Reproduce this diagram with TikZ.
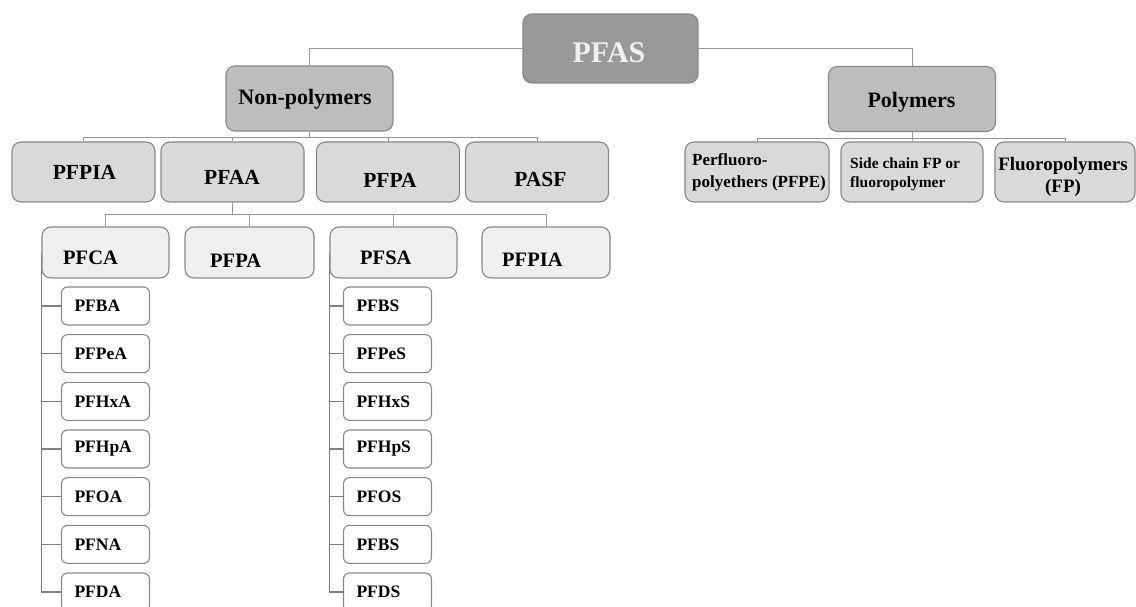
\documentclass[tikz,border=0pt]{standalone}
\usepackage{fontspec}
\setmainfont{Liberation Serif}
\usetikzlibrary{positioning,calc}

\definecolor{topgray}{HTML}{999999}
\definecolor{midgray}{HTML}{BDBDBD}
\definecolor{boxgray}{HTML}{D9D9D9}
\definecolor{subgray}{HTML}{EFEFEF}
\definecolor{edgegray}{HTML}{888888}
\definecolor{linkgray}{HTML}{979797}
\definecolor{spinegray}{HTML}{808080}

\tikzset{
  box/.style={draw=edgegray, line width=1.1pt, rounded corners=9pt, inner sep=0pt},
  toplvl/.style={box, fill=topgray, minimum width=175pt, minimum height=69pt},
  lvlone/.style={box, fill=midgray, minimum width=167pt, minimum height=65pt},
  lvltwo/.style={box, fill=boxgray, minimum width=143pt, minimum height=60pt},
  lvlthree/.style={box, fill=subgray, minimum width=128pt, minimum height=51pt},
  leaf/.style={box, fill=white, rounded corners=6pt, minimum width=88pt,
    minimum height=38pt, text width=62pt, inner xsep=13pt, align=left,
    font=\bfseries\fontsize{17.5}{20}\selectfont},
  link/.style={draw=linkgray, line width=1pt},
  spine/.style={draw=spinegray, line width=1.1pt},
  txt/.style={anchor=base, inner sep=0pt},
}

\begin{document}
\begin{tikzpicture}[x=1pt, y=-1pt]
\useasboundingbox (0,0) rectangle (1136,607);

% top and first level
\node[toplvl] (pfas) at (610.5,48.5) {};
\node[txt, text=white!94!black, font=\bfseries\fontsize{30}{32}\selectfont] (pfas-t) at (609,63) {PFAS};
\node[lvlone] (nonpoly) at (309.5,98.5) {};
\node[txt, font=\bfseries\fontsize{22}{24}\selectfont] (nonpoly-t) at (305,105) {Non-polymers};
\node[lvlone] (poly) at (912,99) {};
\node[txt, font=\bfseries\fontsize{22}{24}\selectfont] (poly-t) at (911.5,108) {Polymers};

% non-polymers
\node[lvltwo] (pfpia1) at (83.5,172) {};
\node[lvltwo] (pfaa) at (232.5,172) {};
\node[lvltwo] (pfpa1) at (388,172) {};
\node[lvltwo] (pasf) at (537,172) {};
\begin{scope}[font=\bfseries\fontsize{21.5}{24}\selectfont]
\node[txt] (pfpia1-t) at (84.5,179) {PFPIA};
\node[txt] (pfaa-t) at (232,185) {PFAA};
\node[txt] (pfpa1-t) at (390,188) {PFPA};
\node[txt] (pasf-t) at (540.5,186) {PASF};
\end{scope}

% polymers
\node[lvltwo, minimum width=144pt] (pfpe) at (757,172) {};
\node[lvltwo, minimum width=142pt] (sidefp) at (912,172) {};
\node[lvltwo, minimum width=140pt] (fp) at (1065,172) {};
\node[txt, anchor=west, align=left, font=\bfseries\fontsize{17}{22}\selectfont] (pfpe-t) at (692,172.5) {Perfluoro-\\polyethers (PFPE)};
\node[txt, anchor=west, align=left, font=\bfseries\fontsize{15.5}{19}\selectfont] (sidefp-t) at (850,174) {Side chain FP or\\fluoropolymer};
\node[txt, anchor=center, align=center, font=\bfseries\fontsize{19}{22}\selectfont] (fp-t) at (1063,176.5) {Fluoropolymers\\(FP)};

% PFAA classes
\node[lvlthree, minimum width=127pt] (pfca) at (105.5,252.5) {};
\node[lvlthree, minimum width=129pt] (pfpa2) at (249.5,252.5) {};
\node[lvlthree, minimum width=127pt] (pfsa) at (393.5,252.5) {};
\node[lvlthree] (pfpia2) at (546,252.5) {};
\begin{scope}[font=\bfseries\fontsize{20.5}{23}\selectfont]
\node[txt, anchor=base west] (pfca-t) at (63,264) {PFCA};
\node[txt, anchor=base west] (pfpa2-t) at (210,267) {PFPA};
\node[txt, anchor=base west] (pfsa-t) at (360,264) {PFSA};
\node[txt, anchor=base west] (pfpia2-t) at (502,266) {PFPIA};
\end{scope}

% connectors
\draw[link] (pfas.west) -| (nonpoly.north);
\draw[link] (pfas.east) -| (poly.north);
\foreach \c in {pfpia1,pfaa,pfpa1,pasf}
  \draw[link] (nonpoly.south) -- ++(0,6) -| (\c.north);
\foreach \c in {pfpe,sidefp,fp}
  \draw[link] (poly.south) -- ++(0,6) -| (\c.north);
\foreach \c in {pfca,pfpa2,pfsa,pfpia2}
  \draw[link] (pfaa.south) -- ++(0,12) -| (\c.north);

% carboxylic and sulfonic acids
\foreach \n [count=\i from 0] in {PFBA,PFPeA,PFHxA,PFHpA,PFOA,PFNA,PFDA} {
  \node[leaf] (ca\i) at (105.5,{306+47.67*\i}) {\n};
  \draw[spine] (pfca.west) |- (ca\i.west);
}
\foreach \n [count=\i from 0] in {PFBS,PFPeS,PFHxS,PFHpS,PFOS,PFBS,PFDS} {
  \node[leaf] (sa\i) at (387.5,{306+47.67*\i}) {\n};
  \draw[spine] (pfsa.west) |- (sa\i.west);
}

\end{tikzpicture}
\end{document}
